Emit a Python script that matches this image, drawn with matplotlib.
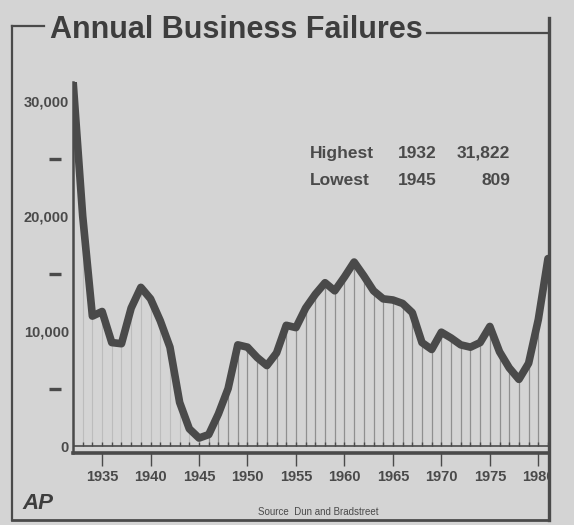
import matplotlib
matplotlib.use("Agg")
import matplotlib.pyplot as plt
import matplotlib.transforms as mtransforms
from matplotlib.lines import Line2D
from matplotlib.patches import Rectangle

# annual business failures
years = list(range(1932, 1982))
failures = [31822, 20000, 11300, 11700, 9000, 8900, 12000, 13800, 12800, 10900,
            8600, 3800, 1500, 700, 1000, 2800, 5000, 8800, 8600, 7700,
            7000, 8100, 10500, 10300, 12000, 13200, 14200, 13500, 14700, 16000,
            14800, 13500, 12800, 12700, 12400, 11600, 9000, 8400, 9900, 9400,
            8800, 8600, 9000, 10400, 8200, 6800, 5800, 7200, 11000, 16300]

ytick_vals = [0, 10000, 20000, 30000]
ytick_labels = ["0", "10,000", "20,000", "30,000"]
ydash_vals = [5000, 15000, 25000]
xtick_vals = [1935, 1940, 1945, 1950, 1955, 1960, 1965, 1970, 1975, 1980]

highest = ("Highest", "1932", "31,822")
lowest = ("Lowest", "1945", "809")

BG = "#d4d4d4"
INK = "#4a4a4a"
STEM = "#8f8f8f"

plt.rcParams["font.family"] = ["Liberation Sans", "DejaVu Sans"]

W, H = 574, 525
fig = plt.figure(figsize=(W / 100, H / 100), dpi=100, facecolor=BG)


def fx(x):
    return x / W


def fy(y):
    return 1 - y / H


# plot area in pixels: left 73, right 548, top 82, bottom 453
ax = fig.add_axes([fx(73), fy(453), fx(548) - fx(73), fy(82) - fy(453)])
ax.set_facecolor(BG)
ax.set_xlim(1932, 1981)
ax.set_ylim(-600, 31650)

# thin stems from the zero line to the curve
early = [i for i, y in enumerate(years) if y <= 1945]
late = [i for i, y in enumerate(years) if y > 1945]
ax.vlines([years[i] for i in early], 0, [failures[i] for i in early],
          color="#bcbcbc", lw=0.8, zorder=1)
ax.vlines([years[i] for i in late], 0, [failures[i] for i in late],
          color=STEM, lw=0.9, zorder=1)
ax.vlines(years, 0, 350, color=INK, lw=1.0, zorder=2)
ax.axhline(0, color=INK, lw=1.2, zorder=2)

ax.plot(years, failures, color=INK, lw=5.5, solid_joinstyle="round",
        solid_capstyle="round", zorder=3)

for s in ["top", "right"]:
    ax.spines[s].set_visible(False)
ax.spines["left"].set_linewidth(1.8)
ax.spines["left"].set_color(INK)
ax.spines["bottom"].set_linewidth(2.6)
ax.spines["bottom"].set_color(INK)

ax.set_yticks(ytick_vals)
ax.set_yticklabels(ytick_labels)
ax.tick_params(axis="y", length=0, pad=3, labelsize=10.5, labelcolor=INK)
ax.set_xticks(xtick_vals)
ax.set_xticklabels([str(v) for v in xtick_vals])
ax.tick_params(axis="x", length=9, width=1, color=INK, direction="out",
               pad=3, labelsize=10.5, labelcolor=INK)
for lab in ax.get_xticklabels() + ax.get_yticklabels():
    lab.set_fontweight("bold")

# short dashes at the in-between values, detached from the axis
trans = mtransforms.blended_transform_factory(ax.transAxes, ax.transData)
ax.plot([-(73 - 55) / 475] * len(ydash_vals), ydash_vals, transform=trans,
        ls="none", marker="_", ms=9, mew=2.4, color=INK, clip_on=False)

# highest / lowest box
for row, y in [(highest, 158), (lowest, 185)]:
    fig.text(fx(310), fy(y), row[0], ha="left", va="baseline",
             fontsize=12.5, fontweight="bold", color=INK)
    fig.text(fx(398), fy(y), row[1], ha="left", va="baseline",
             fontsize=12.5, fontweight="bold", color=INK)
    fig.text(fx(510), fy(y), row[2], ha="right", va="baseline",
             fontsize=12.5, fontweight="bold", color=INK)

# title and credits
fig.text(fx(50), fy(38), "Annual Business Failures", ha="left", va="baseline",
         fontsize=22, fontweight="bold", color="#3e3e3e")
fig.text(fx(22), fy(509), "AP", ha="left", va="baseline", fontsize=16,
         fontweight="heavy", fontstyle="italic", color="#3e3e3e")
fig.text(fx(318), fy(515), "Source  Dun and Bradstreet", ha="center",
         va="baseline", fontsize=7, color=INK)

# cover anything past the right frame, then draw the frame
fig.add_artist(Rectangle((fx(550), 0), 1 - fx(550), 1, transform=fig.transFigure,
                         facecolor=BG, edgecolor="none", zorder=5))
frame = [
    ([12, 12], [26, 520], 1.6),
    ([12, 44], [26, 26], 1.6),
    ([427, 549], [33, 33], 1.6),
    ([549, 549], [18, 520], 2.4),
    ([12, 549], [520, 520], 2.0),
]
for xs, ys, lw in frame:
    fig.add_artist(Line2D([fx(v) for v in xs], [fy(v) for v in ys], color=INK,
                          lw=lw, transform=fig.transFigure, zorder=6))

fig.savefig("out.png", dpi=100, facecolor=BG)
